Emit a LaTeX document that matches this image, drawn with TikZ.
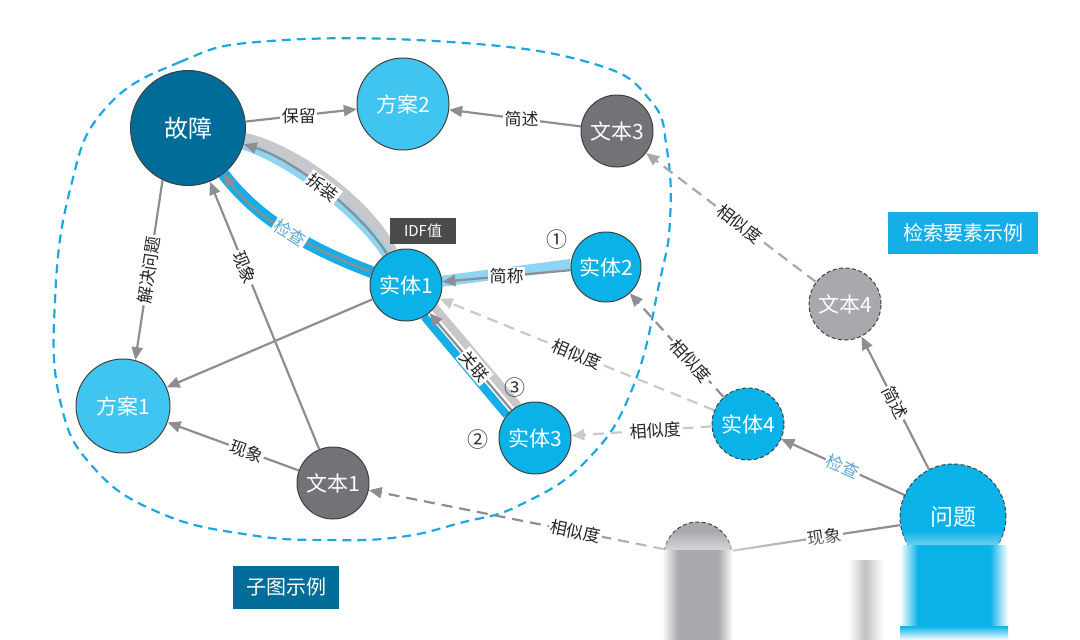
\documentclass[tikz,border=0pt]{standalone}
\usepackage{fontspec}
\setmainfont{Noto Sans CJK SC}
\usetikzlibrary{arrows.meta,backgrounds,fadings}
\definecolor{gzteal}{HTML}{006C98}
\definecolor{faBlue}{HTML}{40C4F0}
\definecolor{stBlue}{HTML}{0AB2E8}
\definecolor{wbGray}{HTML}{737377}
\definecolor{wbLight}{HTML}{A9A9AD}
\definecolor{relGray}{HTML}{8E8E92}
\definecolor{simLight}{HTML}{C9C9CB}
\definecolor{simMid}{HTML}{A8A8AC}
\definecolor{chkBlue}{HTML}{5AA8D6}
\definecolor{bandBlue}{HTML}{16AEE6}
\definecolor{bandLight}{HTML}{8FD4F2}
\definecolor{bandGray}{HTML}{C8C8CA}
\definecolor{idfGray}{HTML}{4B4B4B}
\definecolor{blobBlue}{HTML}{1AA8DF}
\tikzfading[name=fadedown, top color=transparent!100, bottom color=transparent!0]

\begin{document}
\begin{tikzpicture}[x=1pt,y=-1pt,
  >={Triangle[length=13pt,width=11pt]},
  ball/.style={circle,draw=black!75,line width=1pt,text=white,inner sep=0pt,
    font=\fontsize{21}{21}\selectfont},
  dashball/.style={ball,dash pattern=on 4pt off 2.5pt},
  rel/.style={->,draw=relGray,line width=2.2pt},
  simlight/.style={rel,draw=simLight,dash pattern=on 11pt off 7pt},
  simmid/.style={rel,draw=simMid,dash pattern=on 11pt off 7pt},
  simdark/.style={rel,dash pattern=on 11pt off 7pt},
  lbl/.style={fill=white,inner sep=1.5pt,text=black!85,font=\fontsize{17}{17}\selectfont},
  tagbox/.style={text=white,inner sep=0pt,font=\fontsize{20}{20}\selectfont},
  num/.style={text=black!80,font=\fontsize{21}{21}\selectfont}]
  \useasboundingbox (0,0) rectangle (1080,640);

  % sub-graph boundary
  \draw[blobBlue,line width=2.2pt,dash pattern=on 9pt off 6pt]
    plot[smooth cycle,tension=0.75] coordinates {(104,110) (180,62) (270,41) (450,42)
    (591,63) (650,100) (667,150) (670,220) (660,280) (633,387) (587,460) (520,505)
    (460,523) (400,537) (330,540) (250,535) (160,513) (93,467) (60,400) (55,300) (70,190)};

  % nodes
  \node[ball,fill=gzteal,minimum size=115pt,font=\fontsize{24}{24}\selectfont] (gz) at (188,128) {故障};
  \node[ball,fill=faBlue,minimum size=92pt] (fa2) at (403,104) {方案2};
  \node[ball,fill=wbGray,minimum size=72pt] (wb3) at (617,131) {文本3};
  \node[ball,fill=stBlue,minimum size=72pt] (st1) at (406,285) {实体1};
  \node[ball,fill=stBlue,minimum size=70pt] (st2) at (606,267) {实体2};
  \node[ball,fill=stBlue,minimum size=72pt] (st3) at (535,438) {实体3};
  \node[dashball,fill=stBlue,minimum size=72pt] (st4) at (748,424) {实体4};
  \node[dashball,fill=wbLight,minimum size=72pt] (wb4) at (845,304) {文本4};
  \node[ball,fill=faBlue,minimum size=94pt] (fa1) at (123,406) {方案1};
  \node[ball,fill=wbGray,minimum size=72pt] (wb1) at (333,483) {文本1};
  \node[dashball,fill=stBlue,minimum size=106pt,font=\fontsize{23}{23}\selectfont] (wt) at (953,517) {问题};
  \node[dashball,fill=wbLight,minimum size=68pt] (wbx) at (698,556) {};

  % highlighted paths
  \begin{scope}[on background layer]
    \draw[bandGray,line width=15pt] (st1) .. controls (367,205) and (293,151) .. (gz);
    \draw[bandLight,line width=9pt] (st1) .. controls (358,211) and (288,159) .. (gz);
    \draw[bandBlue,line width=12pt] (st1) .. controls (300,245) and (255,215) .. (gz);
    \draw[bandLight,line width=11pt] (st2.176) -- (st1.6);
    \draw[bandGray,line width=8pt] (st1.-38) -- (st3.118);
    \draw[bandBlue,line width=8pt] (st1.-60) -- (st3.141);
  \end{scope}

  % relations
  \draw[rel] (gz) -- node[lbl,pos=0.48] {保留} (fa2);
  \draw[rel] (wb3) -- node[lbl,pos=0.45] {简述} (fa2);
  \draw[rel] (st1) .. controls (360,210) and (290,158) .. node[lbl,sloped,pos=0.5] {拆装} (gz);
  \draw[rel] (st1) .. controls (300,245) and (255,215) .. node[lbl,sloped,pos=0.45,text=chkBlue] {检查} (gz);
  \draw[rel] (st2) -- node[lbl,pos=0.5] {简称} (st1);
  \draw[rel] (st3) -- node[lbl,sloped,pos=0.45] {关联} (st1);
  \draw[rel] (st1) -- (fa1);
  \draw[rel] (gz.244) -- node[lbl,sloped] {解决问题} (fa1.75);
  \draw[rel] (wb1) -- node[lbl,sloped,pos=0.68] {现象} (gz);
  \draw[rel] (wb1) -- node[lbl,sloped,pos=0.4] {现象} (fa1);
  \draw[simlight] (st4) -- node[lbl,sloped,pos=0.5] {相似度} (st1);
  \draw[simlight] (st4) -- node[lbl,sloped,pos=0.4] {相似度} (st3);
  \draw[simdark] (st4) -- node[lbl,sloped,pos=0.35] {相似度} (st2);
  \draw[simmid] (wb4) -- node[lbl,sloped,pos=0.45] {相似度} (wb3);
  \draw[rel] (wt) -- node[lbl,sloped,pos=0.5] {简述} (wb4);
  \draw[rel] (wt) -- node[lbl,sloped,pos=0.5,text=chkBlue] {检查} (st4);
  \draw[rel,-] (wt) -- node[lbl,sloped,pos=0.45] {现象} (wbx);
  \draw[simdark] (wbx) -- node[lbl,sloped,pos=0.3] {相似度} (wb1);

  % tags
  \node[num] (n1) at (557,240) {①};
  \node[num] (n3) at (515,388) {③};
  \node[num] (n2) at (478,440) {②};
  \node[tagbox,fill=idfGray,minimum width=66pt,minimum height=26pt,
    font=\fontsize{15}{15}\selectfont] (idf) at (423,231) {IDF值};
  \node[tagbox,fill=bandBlue,minimum width=150pt,minimum height=42pt] (jsys) at (963,233) {检索要素示例};
  \node[tagbox,fill=gzteal,minimum width=106pt,minimum height=43pt] (ztsl) at (286,587) {子图示例};

  % faded lower edge
  \fill[white,path fading=fadedown] (603,530) rectangle (1080,568);
  \fill[white] (603,567) rectangle (1080,640);
  \fill[stBlue] (918,545) rectangle (990,626);
  \shade[left color=white,right color=stBlue] (900,545) rectangle (918,626);
  \shade[left color=stBlue,right color=white] (990,545) rectangle (1008,626);
  \shade[top color=stBlue,bottom color=white] (900,626) rectangle (1008,640);
  \fill[wbLight] (678,550) rectangle (718,640);
  \shade[left color=white,right color=wbLight] (662,550) rectangle (678,640);
  \shade[left color=wbLight,right color=white] (718,550) rectangle (733,640);
  \shade[left color=white,right color=wbLight!70] (848,560) rectangle (865,640);
  \shade[left color=wbLight!70,right color=white] (865,560) rectangle (884,640);
\end{tikzpicture}
\end{document}
